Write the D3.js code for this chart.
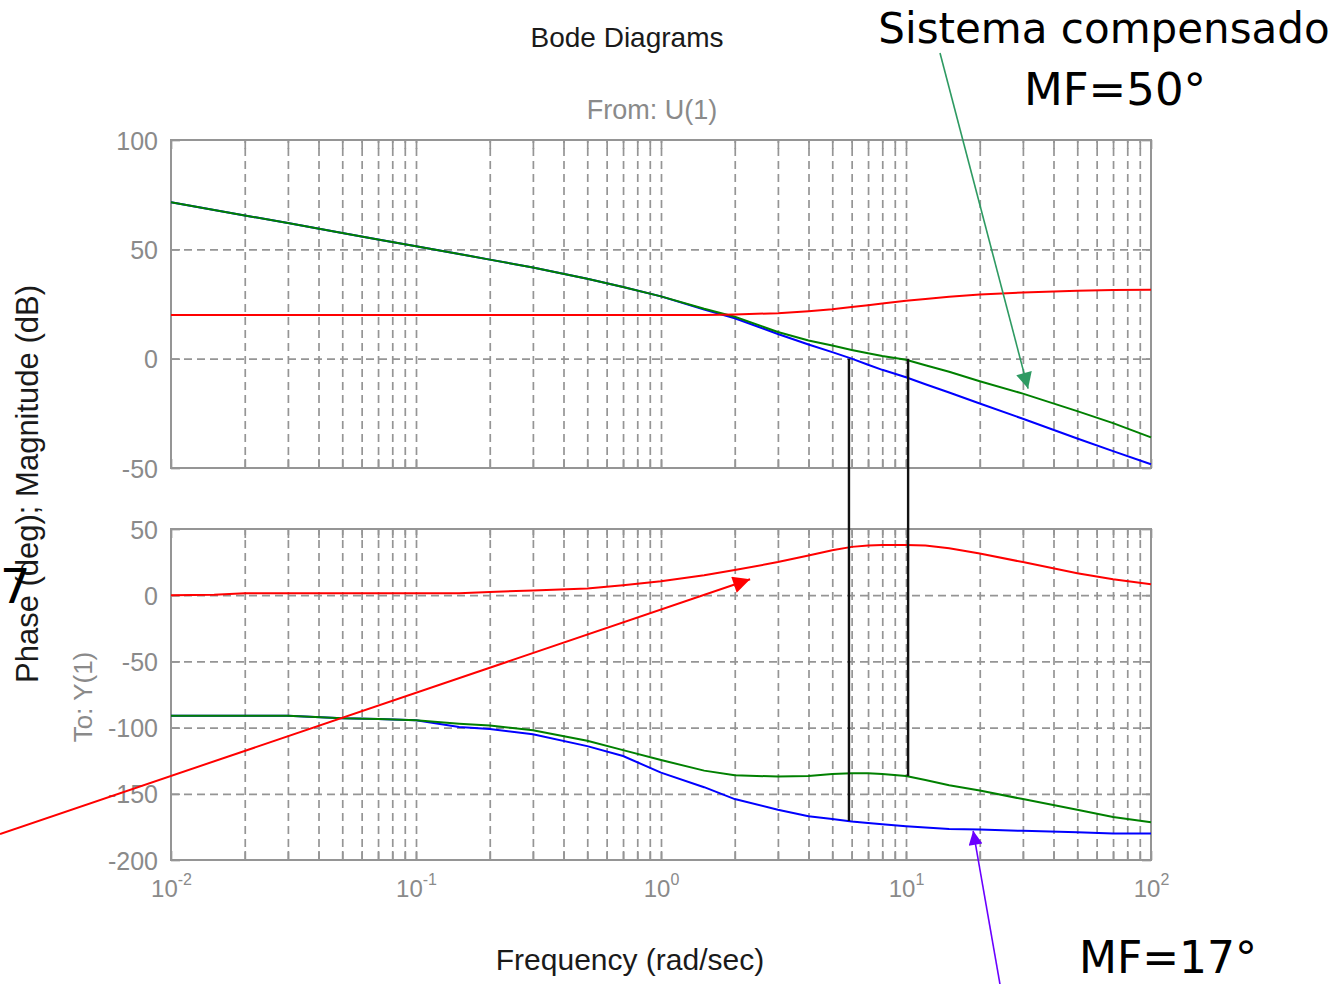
<!DOCTYPE html>
<html>
<head>
<meta charset="utf-8">
<script src="https://cdn.jsdelivr.net/npm/d3@7"></script>
<style>
  html, body { margin: 0; padding: 0; background: #fff; }
  svg { display: block; font-family: "Liberation Sans", Arial, sans-serif; }
</style>
</head>
<body>
<div id="canvas"></div>
<script>
// frequencies (rad/sec) read along the x axis
const freq = [0.01, 0.015, 0.02, 0.03, 0.05, 0.07, 0.1, 0.15, 0.2, 0.3, 0.5, 0.7, 1, 1.5, 2, 3, 4, 5, 6, 7, 8, 10, 12, 15, 20, 30, 50, 70, 100];

// magnitude (dB)
const magPlant = [71.5, 68, 65.5, 62, 57.5, 54.5, 51.4, 47.9, 45.3, 41.7, 36.5, 32.8, 28.5, 22.5, 18.5, 11.3, 6.5, 3, 0, -2.8, -5.1, -8.5, -11.7, -15.5, -20.5, -27.5, -36.5, -42.3, -48.3];
const magComp = [71.5, 68, 65.5, 62, 57.5, 54.5, 51.4, 47.9, 45.3, 41.7, 36.5, 32.8, 28.5, 22.8, 19.2, 12.2, 8.3, 6, 4, 2.5, 1.2, -0.5, -3, -6, -10.3, -16, -24, -29.5, -36];
const magLead = [20, 20, 20, 20, 20, 20, 20, 20, 20, 20, 20, 20, 20, 20, 20.2, 20.8, 21.7, 22.6, 23.6, 24.4, 25.2, 26.5, 27.3, 28.3, 29.4, 30.3, 31.1, 31.4, 31.5];

// phase (deg)
const phPlant = [-91, -91, -91, -91, -93, -93.5, -94.5, -99.5, -101, -105, -114, -121.5, -134, -145, -154, -162, -167, -169, -171, -172, -173, -174.5, -175.5, -176.5, -177, -178, -179, -180, -180];
const phComp = [-91, -91, -91, -91, -93, -93.5, -94.5, -97, -98.5, -102, -110, -117, -124.5, -132.5, -136, -137, -136.5, -135, -134.5, -134.5, -135, -136.5, -139.5, -143.5, -147.5, -154, -162, -167.5, -171.5];
const phLead = [0, 0.3, 1.5, 1.5, 1.5, 1.5, 1.5, 1.5, 2.5, 3.5, 5, 7.5, 10.5, 15, 19, 25, 30, 34, 36.5, 37.5, 38, 38, 37.5, 35.5, 31.5, 25, 16.5, 12, 8.3];

// crossover markers: frequency and the phase the line drops to
const crossW = [5.85, 10.2];
const crossPhase = [-170.5, -136.5];

const decades = [0.01, 0.1, 1, 10, 100];
const decadeExp = ['-2', '-1', '0', '1', '2'];
const magTicks = [-50, 0, 50, 100];
const phaseTicks = [-200, -150, -100, -50, 0, 50];

const WIDTH = 1342, HEIGHT = 984;
const LEFT = 171, RIGHT = 1151;
const MAG = { TOP: 140, BOTTOM: 468 };
const PH = { TOP: 529, BOTTOM: 860 };
const GRID = '#959595';
const TICKTXT = '#8a8a8a';

const svg = d3.select('#canvas').append('svg')
  .attr('width', WIDTH)
  .attr('height', HEIGHT);

const defs = svg.append('defs');
function marker(id, color, len, wid) {
  defs.append('marker')
    .attr('id', id)
    .attr('viewBox', '0 0 10 10')
    .attr('refX', 10).attr('refY', 5)
    .attr('markerUnits', 'userSpaceOnUse')
    .attr('markerWidth', len).attr('markerHeight', wid)
    .attr('orient', 'auto')
    .append('path')
      .attr('d', 'M0,0 L10,5 L0,10 z')
      .attr('fill', color);
}
marker('headGreen', '#2e9a62', 18, 16);
marker('headRed', '#ff0000', 22, 17);
marker('headPurple', '#6a00ff', 18, 14);

const x = d3.scaleLog().domain([0.01, 100]).range([LEFT, RIGHT]);
const yMag = d3.scaleLinear().domain([-50, 100]).range([MAG.BOTTOM, MAG.TOP]);
const yPh = d3.scaleLinear().domain([-200, 50]).range([PH.BOTTOM, PH.TOP]);

// every 1..9 x decade for the grid
const gridW = [];
decades.slice(0, 4).forEach(d => { for (let k = 1; k < 10; k++) gridW.push(d * k); });
gridW.push(100);

function panel(y, ticks, top, bottom) {
  const g = svg.append('g');

  // vertical dashed grid
  g.append('g')
    .attr('transform', `translate(0, ${bottom})`)
    .call(d3.axisBottom(x).tickValues(gridW.slice(1, -1)).tickSize(-(bottom - top)).tickFormat(''))
    .call(s => s.select('.domain').remove())
    .selectAll('line')
      .attr('stroke', GRID)
      .attr('stroke-width', 1.7)
      .attr('stroke-dasharray', '8,5');

  // horizontal dashed grid
  g.append('g')
    .attr('transform', `translate(${LEFT}, 0)`)
    .call(d3.axisLeft(y).tickValues(ticks.slice(1, -1)).tickSize(-(RIGHT - LEFT)).tickFormat(''))
    .call(s => s.select('.domain').remove())
    .selectAll('line')
      .attr('stroke', GRID)
      .attr('stroke-width', 1.7)
      .attr('stroke-dasharray', '8,5');

  // inward ticks on the frame
  [[bottom, d3.axisTop], [top, d3.axisBottom]].forEach(([yy, ax]) => {
    g.append('g')
      .attr('transform', `translate(0, ${yy})`)
      .call(ax(x).tickValues(gridW).tickSize(9).tickFormat(''))
      .call(s => s.select('.domain').remove())
      .selectAll('line').attr('stroke', GRID).attr('stroke-width', 1.7);
  });
  [[LEFT, d3.axisRight], [RIGHT, d3.axisLeft]].forEach(([xx, ax]) => {
    g.append('g')
      .attr('transform', `translate(${xx}, 0)`)
      .call(ax(y).tickValues(ticks).tickSize(9).tickFormat(''))
      .call(s => s.select('.domain').remove())
      .selectAll('line').attr('stroke', GRID).attr('stroke-width', 1.7);
  });

  // tick labels
  g.append('g')
    .attr('transform', `translate(${LEFT}, 0)`)
    .call(d3.axisLeft(y).tickValues(ticks).tickSize(0).tickPadding(13).tickFormat(d => String(d)))
    .call(s => s.select('.domain').remove())
    .selectAll('text')
      .attr('fill', TICKTXT)
      .attr('font-size', 25)
      .attr('font-family', '"Liberation Sans", Arial, sans-serif')
      .attr('dy', '0.36em');

  // frame
  g.append('rect')
    .attr('x', LEFT).attr('y', top)
    .attr('width', RIGHT - LEFT).attr('height', bottom - top)
    .attr('fill', 'none')
    .attr('stroke', GRID)
    .attr('stroke-width', 2);

  return g;
}

const gMag = panel(yMag, magTicks, MAG.TOP, MAG.BOTTOM);
const gPh = panel(yPh, phaseTicks, PH.TOP, PH.BOTTOM);

// x tick labels: 10^n
const xAx = svg.append('g')
  .attr('transform', `translate(0, ${PH.BOTTOM})`)
  .call(d3.axisBottom(x).tickValues(decades).tickSize(0).tickFormat(''));
xAx.select('.domain').remove();
xAx.selectAll('.tick').each(function (d, i) {
  const t = d3.select(this).append('text')
    .attr('y', 37)
    .attr('x', 0)
    .attr('text-anchor', 'middle')
    .attr('fill', TICKTXT)
    .attr('font-size', 24)
    .attr('font-family', '"Liberation Sans", Arial, sans-serif');
  t.append('tspan').text('10');
  t.append('tspan').attr('dy', -12).attr('font-size', 16).text(decadeExp[i]);
});

// curves
const series = [
  { g: gMag, y: yMag, v: magPlant, c: '#0000ff' },
  { g: gMag, y: yMag, v: magComp, c: '#008000' },
  { g: gMag, y: yMag, v: magLead, c: '#ff0000' },
  { g: gPh, y: yPh, v: phPlant, c: '#0000ff' },
  { g: gPh, y: yPh, v: phComp, c: '#008000' },
  { g: gPh, y: yPh, v: phLead, c: '#ff0000' }
];
series.forEach(s => {
  const line = d3.line()
    .x((d, i) => x(freq[i]))
    .y(d => s.y(d));
  s.g.append('path')
    .datum(s.v)
    .attr('d', line)
    .attr('fill', 'none')
    .attr('stroke', s.c)
    .attr('stroke-width', 2);
});

// crossover lines from 0 dB down to the phase curve
svg.selectAll('.cross')
  .data(crossW)
  .enter().append('line')
    .attr('class', 'cross')
    .attr('x1', d => x(d)).attr('x2', d => x(d))
    .attr('y1', yMag(0))
    .attr('y2', (d, i) => yPh(crossPhase[i]))
    .attr('stroke', '#111')
    .attr('stroke-width', 2.4);

// titles and axis labels
svg.append('text')
  .attr('x', 627).attr('y', 47)
  .attr('text-anchor', 'middle')
  .attr('font-size', 28)
  .attr('fill', '#1a1a1a')
  .text('Bode Diagrams');

svg.append('text')
  .attr('x', 652).attr('y', 119)
  .attr('text-anchor', 'middle')
  .attr('font-size', 27)
  .attr('fill', TICKTXT)
  .text('From: U(1)');

svg.append('text')
  .attr('x', 630).attr('y', 970)
  .attr('text-anchor', 'middle')
  .attr('font-size', 30)
  .attr('fill', '#1a1a1a')
  .text('Frequency (rad/sec)');

svg.append('text')
  .attr('transform', 'translate(38, 484) rotate(-90)')
  .attr('text-anchor', 'middle')
  .attr('font-size', 31)
  .attr('fill', '#1a1a1a')
  .text('Phase (deg); Magnitude (dB)');

svg.append('text')
  .attr('transform', 'translate(92, 697) rotate(-90)')
  .attr('text-anchor', 'middle')
  .attr('font-size', 26)
  .attr('fill', TICKTXT)
  .text('To: Y(1)');

// annotations
const noteFont = '"Comic Sans MS", "DejaVu Sans", sans-serif';

svg.append('text')
  .attr('x', 1104).attr('y', 43)
  .attr('text-anchor', 'middle')
  .attr('font-family', noteFont)
  .attr('font-size', 42)
  .attr('fill', '#000')
  .text('Sistema compensado');

svg.append('text')
  .attr('x', 1115).attr('y', 105)
  .attr('text-anchor', 'middle')
  .attr('font-family', noteFont)
  .attr('font-size', 45)
  .attr('fill', '#000')
  .text('MF=50°');

svg.append('text')
  .attr('x', 1168).attr('y', 973)
  .attr('text-anchor', 'middle')
  .attr('font-family', noteFont)
  .attr('font-size', 44)
  .attr('fill', '#000')
  .text('MF=17°');

svg.append('text')
  .attr('x', 0).attr('y', 603)
  .attr('font-family', noteFont)
  .attr('font-size', 48)
  .attr('fill', '#000')
  .text('7');

// arrows: tail in page pixels, tip on the curves
const arrows = [
  { x1: 940, y1: 53, tw: 31.5, tv: -13.7, ys: yMag, c: '#2e9a62', w: 1.6, m: 'headGreen' },
  { x1: 0, y1: 834, tw: 2.31, tv: 12, ys: yPh, c: '#ff0000', w: 2, m: 'headRed' },
  { x1: 1001, y1: 990, tw: 18.8, tv: -178, ys: yPh, c: '#6a00ff', w: 1.6, m: 'headPurple' }
];
arrows.forEach(a => {
  svg.append('line')
    .attr('x1', a.x1).attr('y1', a.y1)
    .attr('x2', x(a.tw)).attr('y2', a.ys(a.tv))
    .attr('stroke', a.c)
    .attr('stroke-width', a.w)
    .attr('marker-end', `url(#${a.m})`);
});
</script>
</body>
</html>
